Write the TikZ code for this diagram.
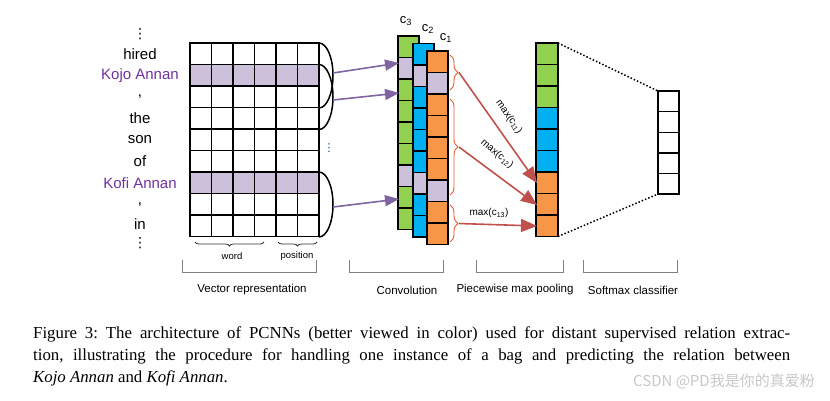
\documentclass[tikz,border=0pt]{standalone}
\usepackage{fontspec}
\setmainfont{Liberation Serif}
\setsansfont{Liberation Sans}
\newfontfamily\cjkfont{Noto Sans CJK SC}
\newfontfamily\symfont{DejaVu Sans}
\usetikzlibrary{arrows.meta,decorations.pathreplacing,positioning}

\definecolor{lav}{RGB}{204,192,218}
\definecolor{grn}{RGB}{146,208,80}
\definecolor{blu}{RGB}{0,176,240}
\definecolor{org}{RGB}{247,150,70}
\definecolor{ent}{RGB}{112,48,160}
\definecolor{parr}{RGB}{128,100,162}
\definecolor{rarr}{RGB}{192,80,77}
\definecolor{brc}{RGB}{226,92,44}
\definecolor{dotblue}{RGB}{31,73,125}

\tikzset{
  gridline/.style={line width=1.5pt,line cap=rect},
  cell/.style={draw=black,line width=1.4pt},
  wordlab/.style={font=\sffamily\fontsize{15}{15}\selectfont},
  vdotlab/.style={inner sep=0pt,font=\symfont\fontsize{14}{14}\selectfont},
  smalllab/.style={font=\sffamily\fontsize{9.5}{9.5}\selectfont},
  maxlab/.style={font=\sffamily\fontsize{10}{10}\selectfont},
  stagelab/.style={font=\sffamily\fontsize{11.5}{11.5}\selectfont},
  clab/.style={font=\sffamily\fontsize{13}{13}\selectfont},
  caplab/.style={anchor=base west,inner sep=0pt,font=\fontsize{16.8}{16.8}\selectfont},
  parrow/.style={draw=parr,line width=1.6pt,-{Triangle[length=14pt,width=11pt]}},
  rarrow/.style={draw=rarr,line width=1.6pt,-{Triangle[length=16pt,width=13pt]}},
  rbrace/.style={draw=brc,line width=0.9pt,decorate,decoration={brace,amplitude=8pt}},
  kbrace/.style={draw=black!80,line width=0.8pt,decorate,decoration={brace,amplitude=4pt}},
  stage/.style={draw=black!50,line width=1pt},
  arcline/.style={line width=1.5pt}
}

\begin{document}
\frenchspacing
\begin{tikzpicture}[x=1pt,y=-1pt]
    \useasboundingbox (0,0) rectangle (830,400);

    % Words of the sentence
    \node[vdotlab] (top) at (140,34) {⋮};
    \node[wordlab] (w0) at (140,54) {hired};
    \node[wordlab,text=ent] (w1) at (140,75.5) {Kojo Annan};
    \node[wordlab] (w2) at (140,97) {,};
    \node[wordlab] (w3) at (140,118.5) {the};
    \node[wordlab] (w4) at (140,140) {son};
    \node[wordlab] (w5) at (140,161.5) {of};
    \node[wordlab,text=ent] (w6) at (140,183) {Kofi Annan};
    \node[wordlab] (w7) at (140,204.5) {,};
    \node[wordlab,inner sep=1pt] (w8) at (140,224) {in};
    \node[vdotlab] (bot) at (140,243) {⋮};

    % Vector representation
    \fill[lav] (190,64.5) rectangle (319,86);
    \fill[lav] (190,172) rectangle (319,193.5);
    \foreach \i in {0,...,6}
        \draw[gridline] ({190+21.5*\i},43) -- ({190+21.5*\i},236.5);
    \foreach \j in {0,...,9}
        \draw[gridline] (190,{43+21.5*\j}) -- (319,{43+21.5*\j});

    % Filter windows
    \draw[arcline] (319,43) arc[start angle=-90,end angle=90,x radius=14,y radius=32.5];
    \draw[arcline] (319,64.5) arc[start angle=-90,end angle=90,x radius=14,y radius=32.5];
    \draw[arcline] (319,172) arc[start angle=-90,end angle=90,x radius=14,y radius=32.5];
    \node[vdotlab,text=dotblue,font=\symfont\fontsize{11}{11}\selectfont] (mid) at (329,148) {⋮};

    % Convolution feature maps
    \foreach \x/\y/\c in {398/36/grn,413/43.5/blu,427/51/org} {
        \foreach \j in {0,...,8} {
            \ifnum\j=1 \def\cc{lav}\else\ifnum\j=6 \def\cc{lav}\else\def\cc{\c}\fi\fi
            \draw[cell,fill=\cc] (\x,{\y+21.5*\j}) rectangle ++(21,21.5);
        }
    }
    \node[clab] (c3) at (406,21) {c\textsubscript{3}};
    \node[clab] (c2) at (428,29) {c\textsubscript{2}};
    \node[clab] (c1) at (446,38) {c\textsubscript{1}};

    % Windows to feature maps
    \coordinate (a1) at (333,73);
    \coordinate (a2) at (333,100);
    \coordinate (a3) at (333,207);
    \coordinate (f1) at (399,63);
    \coordinate (f2) at (399,93);
    \coordinate (f3) at (399,199);
    \draw[parrow] (a1) -- (f1);
    \draw[parrow] (a2) -- (f2);
    \draw[parrow] (a3) -- (f3);

    % Pieces of c1
    \draw[rbrace] (450,55) -- (450,90);
    \draw[rbrace] (450,99) -- (450,195);
    \draw[rbrace] (450,205) -- (450,242);
    \coordinate (t1) at (459,72.5);
    \coordinate (t2) at (459,147);
    \coordinate (t3) at (459,223.5);

    % Pooling vector
    \foreach \j/\c in {0/grn,1/grn,2/grn,3/blu,4/blu,5/blu,6/org,7/org,8/org}
        \draw[cell,fill=\c] (536,{43+21.5*\j}) rectangle ++(22,21.5);
    \coordinate (o1) at (537,183);
    \coordinate (o2) at (537,205);
    \coordinate (o3) at (537,226);
    \draw[rarrow] (t1) -- (o1);
    \draw[rarrow] (t2) -- (o2);
    \draw[rarrow] (t3) -- (o3);
    \node[maxlab,rotate=-55] (m1) at (509,117) {max(c\textsubscript{11})};
    \node[maxlab,rotate=-40] (m2) at (497,154) {max(c\textsubscript{12})};
    \node[maxlab] (m3) at (489,213) {max(c\textsubscript{13})};

    % Softmax layer
    \foreach \j in {0,...,4}
        \draw[cell] (658,{91+20.6*\j}) rectangle ++(21,20.6);
    \coordinate (p0) at (558,43);
    \coordinate (p1) at (558,236.5);
    \coordinate (s0) at (658,91);
    \coordinate (s1) at (658,194);
    \draw[dotted,line width=1.5pt] (p0) -- (s0);
    \draw[dotted,line width=1.5pt] (p1) -- (s1);

    % word / position
    \draw[kbrace] (264,242) -- (195,242);
    \draw[kbrace] (317,242) -- (278,242);
    \node[smalllab] (wd) at (232,256) {word};
    \node[smalllab] (ps) at (297,256) {position};

    % Stages
    \draw[stage] (182,260) -- (182,272) -- (316,272) -- (316,260);
    \draw[stage] (349,260) -- (349,272) -- (443,272) -- (443,260);
    \draw[stage] (476,260) -- (476,272) -- (563,272) -- (563,260);
    \draw[stage] (583,260) -- (583,272) -- (677,272) -- (677,260);
    \node[stagelab] (s-vec) at (252,290) {Vector representation};
    \node[stagelab] (s-conv) at (407,290) {Convolution};
    \node[stagelab] (s-pool) at (515,290) {Piecewise max pooling};
    \node[stagelab] (s-soft) at (633,290) {Softmax classifier};

    % Caption
    \node[caplab] (cap1) at (33,338)
        {\makebox[757pt][s]{Figure 3: The architecture of PCNNs (better viewed in color) used for distant supervised relation extrac-}};
    \node[caplab] (cap2) at (33,360)
        {\makebox[757pt][s]{tion, illustrating the procedure for handling one instance of a bag and predicting the relation between}};
    \node[caplab] (cap3) at (33,382)
        {\textit{Kojo Annan} and \textit{Kofi Annan}.};
    \node[anchor=base east,inner sep=0pt,text=black!22,font=\cjkfont\fontsize{15}{15}\selectfont] (wm) at (815,386)
        {CSDN @PD我是你的真爱粉};
\end{tikzpicture}
\end{document}
